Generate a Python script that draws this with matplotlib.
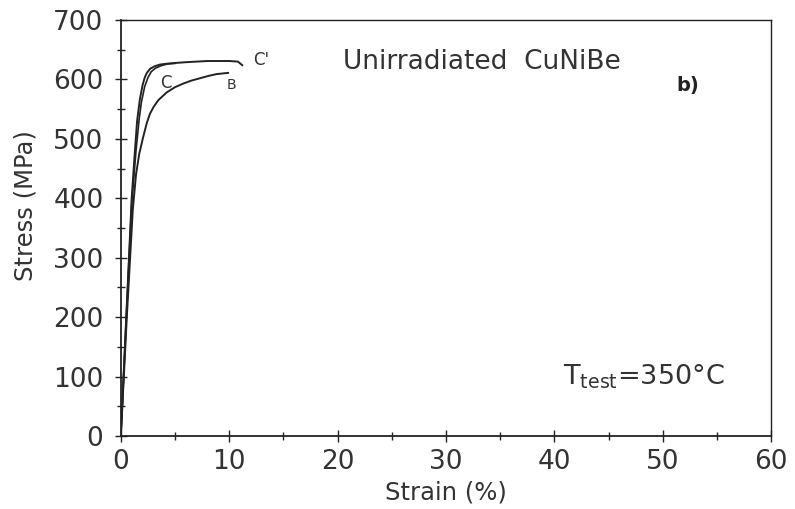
import numpy as np
import matplotlib.pyplot as plt
from matplotlib.ticker import MultipleLocator

# stress-strain curves (strain %, stress MPa)
strain_c2 = [0, 0.5, 1.0, 1.3, 1.5, 1.75, 2.0, 2.2, 2.4, 2.7, 3.1, 3.6, 4.5, 6.0, 8.0, 10.0, 10.8, 11.2]
stress_c2 = [0, 200, 400, 480, 530, 566, 590, 603, 611, 618, 622, 625, 627, 629, 631, 631, 630, 624]

strain_c = [0, 0.5, 1.0, 1.4, 1.7, 1.9, 2.2, 2.5, 2.8, 3.2, 3.7, 4.3, 5.0]
stress_c = [0, 200, 390, 480, 535, 562, 588, 603, 613, 619, 623, 626, 627]

strain_b = [0, 0.55, 1.1, 1.4, 1.7, 2.06, 2.4, 2.68, 3.0, 3.45, 4.22, 5.0, 5.75, 6.5, 7.3, 8.1, 8.84, 9.9]
stress_b = [0, 200, 380, 440, 475, 503, 527, 542, 553, 565, 578, 587, 593, 598, 602, 606, 609, 611]

fig = plt.figure(figsize=(7.95, 5.09), dpi=100)
ax = fig.add_axes([0.152, 0.1434, 0.818, 0.8173])

lc = '#222222'
tc = '#333333'
ax.plot(strain_c2, stress_c2, color=lc, lw=1.4)
ax.plot(strain_c, stress_c, color=lc, lw=1.2)
ax.plot(strain_b, stress_b, color=lc, lw=1.4)

ax.set_xlim(0, 60)
ax.set_ylim(0, 700)
ax.xaxis.set_major_locator(MultipleLocator(10))
ax.xaxis.set_minor_locator(MultipleLocator(5))
ax.yaxis.set_major_locator(MultipleLocator(100))
ax.yaxis.set_minor_locator(MultipleLocator(50))
ax.tick_params(which='major', direction='inout', length=9, width=1, colors=lc,
               labelsize=19, labelcolor=tc)
ax.tick_params(which='minor', direction='inout', length=6, width=1, colors=lc)
ax.tick_params(axis='y', which='major', pad=8)
ax.tick_params(axis='x', which='major', pad=5)
for s in ax.spines.values():
    s.set_color(lc)
    s.set_linewidth(1.3)
ax.spines['top'].set_linewidth(1.0)
ax.spines['right'].set_linewidth(1.0)

ax.set_xlabel('Strain (%)', fontsize=17.5, color=tc)
ax.set_ylabel('Stress (MPa)', fontsize=17.5, color=tc)
ax.xaxis.set_label_coords(0.5, -0.108)
ax.yaxis.set_label_coords(-0.128, 0.555)

ax.text(12.2, 633, "C'", fontsize=12, color=tc, va='center')
ax.text(3.6, 594, 'C', fontsize=12, color=tc, va='center')
ax.text(9.8, 590, 'B', fontsize=10, color=tc, va='center')
ax.text(33.3, 630, 'Unirradiated  CuNiBe', fontsize=19, color=tc,
        ha='center', va='center')
ax.text(52.3, 590, 'b)', fontsize=14, fontweight='bold', color=lc,
        ha='center', va='center')
ax.text(40.8, 100, r'T$_{\mathregular{test}}$=350°C', fontsize=19.5,
        color=tc, va='center')

fig.savefig('out.png', dpi=100)
